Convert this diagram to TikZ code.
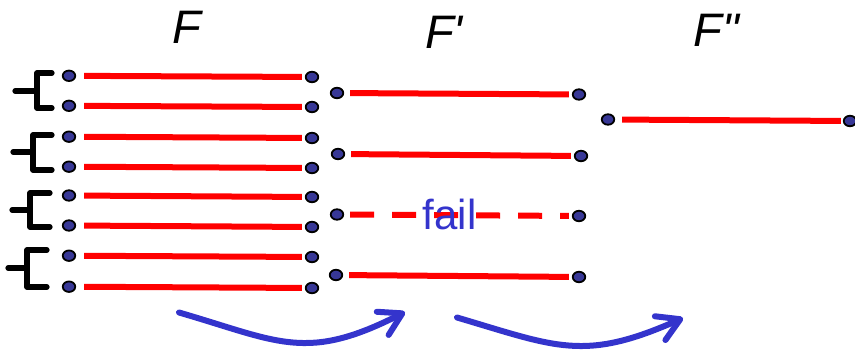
\documentclass[tikz,border=0pt]{standalone}
\usepackage{fontspec}
\newfontfamily\lab{Liberation Sans}
\usetikzlibrary{shapes.geometric,arrows.meta}
\definecolor{dotblue}{RGB}{55,55,150}
\definecolor{arrblue}{RGB}{52,52,204}
\definecolor{segred}{RGB}{255,0,0}
\tikzset{
  dot/.style={ellipse,draw=black,line width=1.8pt,fill=dotblue,minimum width=12.5pt,minimum height=10.5pt,inner sep=0pt},
  seg/.style={draw=segred,line width=6pt},
  brk/.style={draw=black,line width=5.2pt,line cap=round,line join=round},
  flow/.style={draw=arrblue,line width=6pt,line cap=round,-{Straight Barb[length=22pt,width=26pt,line width=6pt,round]}},
  title/.style={font=\lab\itshape\fontsize{47}{47}\selectfont,inner sep=0pt,anchor=base}
}
\begin{document}
\begin{tikzpicture}[x=1pt,y=-1pt]
\useasboundingbox (0,0) rectangle (855,352);
% titles
\node[title] (tF) at (187,44) {F};
\node[title] (tF1) at (444,49) {F\char39};
\node[title] (tF2) at (716,47) {F\char34};
% F column dots
\foreach \i/\yl/\yr in {1/75.8/77,2/105.8/107,3/136.7/138,4/166.7/168,5/195.5/197,6/225.5/227,7/255.7/257,8/286.7/288}{
  \node[dot] (l\i) at (69,\yl) {};
  \node[dot] (r\i) at (312,\yr) {};
  \draw[seg,shorten <=8pt,shorten >=3pt] (l\i) -- (r\i);
}
% F' column
\node[dot] (p1) at (337,93) {};
\node[dot] (q1) at (579,94.5) {};
\node[dot] (p2) at (338,154) {};
\node[dot] (q2) at (581,156) {};
\node[dot] (p3) at (337,214.5) {};
\node[dot] (q3) at (579,216) {};
\node[dot] (p4) at (336,275) {};
\node[dot] (q4) at (579,277) {};
\draw[seg,shorten <=6pt,shorten >=3pt] (p1) -- (q1);
\draw[seg,shorten <=6pt,shorten >=3pt] (p2) -- (q2);
\draw[seg,shorten <=6pt,shorten >=3pt,dash pattern=on 24pt off 18pt] (p3) -- (q3);
\draw[seg,shorten <=6pt,shorten >=3pt] (p4) -- (q4);
\node[font=\lab\fontsize{42}{42}\selectfont,text=arrblue,inner sep=0pt,anchor=base] (fail) at (449.5,230) {fail};
% F'' column
\node[dot] (s1) at (608,119.5) {};
\node[dot] (t1) at (850,121) {};
\draw[seg,shorten <=7pt,shorten >=2pt] (s1) -- (t1);
% brackets
\draw[brk] (52,73) -- (37,73) -- (37,108) -- (52,108);
\draw[brk] (15,91) -- (37,91);
\draw[brk] (52,135) -- (33,135) -- (33,170) -- (52,170);
\draw[brk] (13,152) -- (33,152);
\draw[brk] (50,193) -- (30,193) -- (30,227) -- (50,227);
\draw[brk] (12,210) -- (30,210);
\draw[brk] (47,250) -- (27,250) -- (27,287) -- (47,287);
\draw[brk] (8,268) -- (27,268);
% flow arrows
\coordinate (a1s) at (179,312.5);
\coordinate (a1e) at (405,312);
\coordinate (a2s) at (457,317.5);
\coordinate (a2e) at (683,318);
\draw[flow] (a1s) .. controls (279,341.5) and (306,362.5) .. (a1e);
\draw[flow] (a2s) .. controls (557,347) and (584,362) .. (a2e);
\end{tikzpicture}
\end{document}
